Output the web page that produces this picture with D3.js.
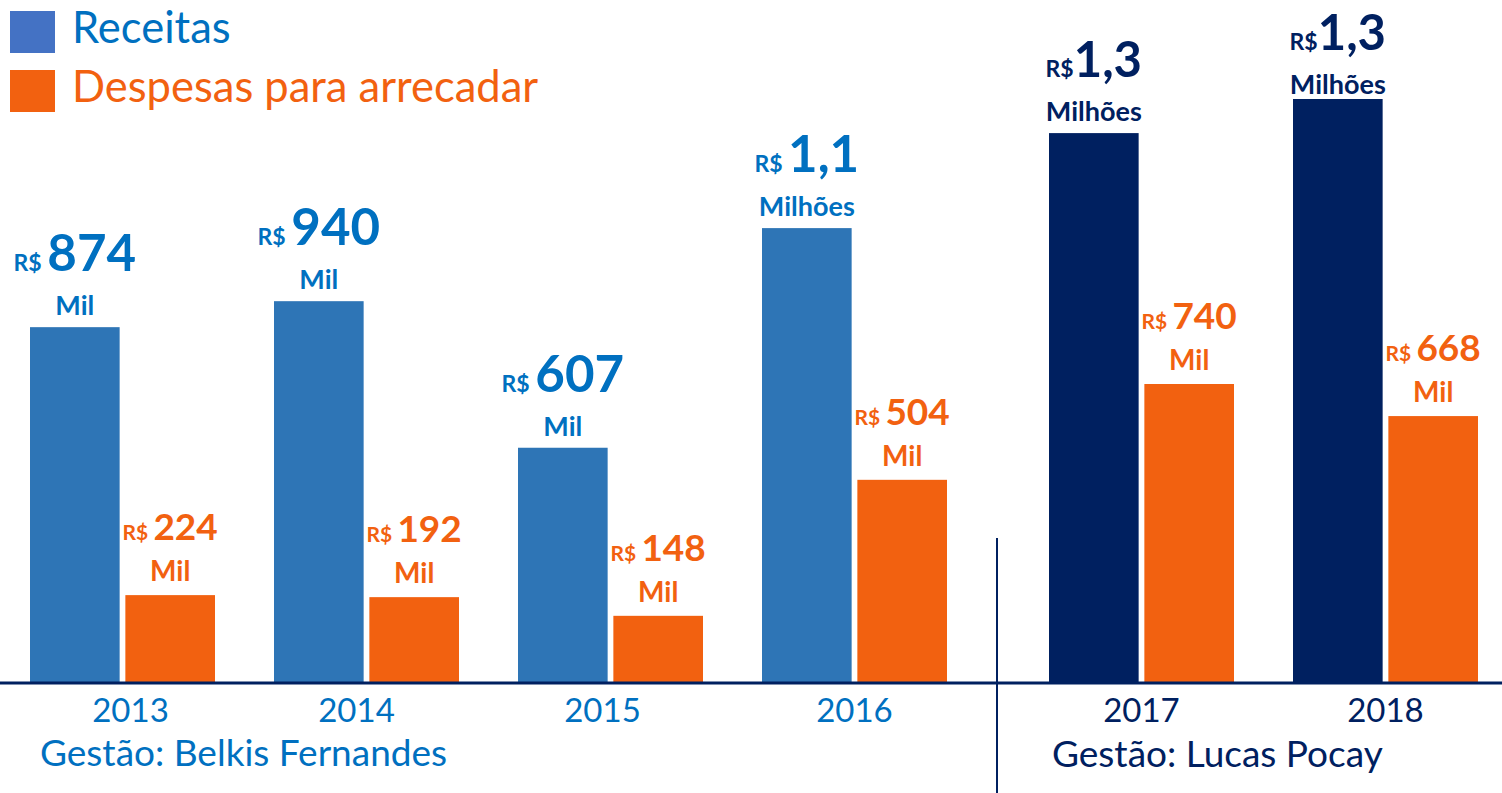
<!DOCTYPE html>
<html>
<head>
<meta charset="utf-8">
<script src="https://cdn.jsdelivr.net/npm/d3@7"></script>
<style>
  body { margin: 0; background: white; }
  svg { display: block; font-family: Lato, "Open Sans", sans-serif; }
</style>
</head>
<body>
<script>
// data
var years = ['2013', '2014', '2015', '2016', '2017', '2018'];
var receitas = [874, 938, 577, 1118, 1352, 1436];
var despesas = [214, 209, 163, 498, 734, 655];
var receitasLabel = ['874', '940', '607', '1,1', '1,3', '1,3'];
var receitasUnit = ['Mil', 'Mil', 'Mil', 'Milhões', 'Milhões', 'Milhões'];
var despesasLabel = ['224', '192', '148', '504', '740', '668'];
var gestao = ['Gestão: Belkis Fernandes', 'Gestão: Lucas Pocay'];
var gestaoIndex = [0, 0, 0, 0, 1, 1];

var width = 1502;
var height = 793;
var baseY = 682;

var blue = '#2E75B6';
var blueText = '#0070C0';
var navy = '#002060';
var orange = '#F26110';

var svg = d3.select('body')
  .append('svg')
  .attr('width', width)
  .attr('height', height);

var x0 = d3.scaleBand()
  .domain(years)
  .range([30, 1435])
  .paddingInner(0.2418)
  .paddingOuter(0);

var x1 = d3.scaleBand()
  .domain(['rec', 'desp'])
  .range([0, x0.bandwidth()])
  .paddingInner(0.06);

var yScale = d3.scaleLinear()
  .domain([0, d3.max(receitas)])
  .range([baseY, 99]);

// second administration is pushed a bit to the right
function groupX(i) {
  return x0(years[i]) + (gestaoIndex[i] === 1 ? 43 : 0);
}

var recColor = function(i) { return gestaoIndex[i] === 1 ? navy : blue; };
var recText = function(i) { return gestaoIndex[i] === 1 ? navy : blueText; };

// bars
svg.selectAll('rect.rec')
  .data(receitas)
  .enter()
  .append('rect')
  .attr('class', 'rec')
  .attr('x', function(v, i) { return groupX(i) + x1('rec'); })
  .attr('y', function(v) { return yScale(v); })
  .attr('width', x1.bandwidth())
  .attr('height', function(v) { return baseY - yScale(v); })
  .attr('fill', function(v, i) { return recColor(i); });

svg.selectAll('rect.desp')
  .data(despesas)
  .enter()
  .append('rect')
  .attr('class', 'desp')
  .attr('x', function(v, i) { return groupX(i) + x1('desp'); })
  .attr('y', function(v) { return yScale(v); })
  .attr('width', x1.bandwidth())
  .attr('height', function(v) { return baseY - yScale(v); })
  .attr('fill', orange);

// labels over receitas
receitas.forEach(function(v, i) {
  var cx = groupX(i) + x1('rec') + x1.bandwidth() / 2;
  var top = yScale(v);
  var big = gestaoIndex[i] === 1;
  var t = svg.append('text')
    .attr('x', cx)
    .attr('y', top - (i === 5 ? 49 : 56))
    .attr('text-anchor', 'middle')
    .attr('fill', recText(i))
    .attr('font-weight', 'bold');
  t.append('tspan').attr('font-size', 23).text(big ? 'R$' : 'R$ ');
  t.append('tspan').attr('font-size', big ? 49 : 51).text(receitasLabel[i]);
  svg.append('text')
    .attr('x', cx)
    .attr('y', top - (i === 5 ? 5 : 12))
    .attr('text-anchor', 'middle')
    .attr('fill', recText(i))
    .attr('font-weight', 'bold')
    .attr('font-size', 27)
    .text(receitasUnit[i]);
});

// labels over despesas
despesas.forEach(function(v, i) {
  var cx = groupX(i) + x1('desp') + x1.bandwidth() / 2;
  var top = yScale(v);
  var t = svg.append('text')
    .attr('x', cx)
    .attr('y', top - 55)
    .attr('text-anchor', 'middle')
    .attr('fill', orange)
    .attr('font-weight', 'bold');
  t.append('tspan').attr('font-size', 21).text('R$ ');
  t.append('tspan').attr('font-size', 37).text(despesasLabel[i]);
  svg.append('text')
    .attr('x', cx)
    .attr('y', top - 14)
    .attr('text-anchor', 'middle')
    .attr('fill', orange)
    .attr('font-weight', 'bold')
    .attr('font-size', 28)
    .text('Mil');
});

// baseline and divider
svg.append('line')
  .attr('x1', 0).attr('x2', width)
  .attr('y1', baseY + 1).attr('y2', baseY + 1)
  .attr('stroke', navy)
  .attr('stroke-width', 3);

svg.append('line')
  .attr('x1', 997).attr('x2', 997)
  .attr('y1', 538).attr('y2', height)
  .attr('stroke', navy)
  .attr('stroke-width', 2);

// year labels (slightly off-centre in the original)
var yearNudge = [8, -10, -8, 0, 0, 0];
svg.selectAll('text.year')
  .data(years)
  .enter()
  .append('text')
  .attr('class', 'year')
  .attr('x', function(d, i) { return groupX(i) + x0.bandwidth() / 2 + yearNudge[i]; })
  .attr('y', 722)
  .attr('text-anchor', 'middle')
  .attr('font-size', 33)
  .attr('fill', function(d, i) { return recText(i); })
  .text(function(d) { return d; });

svg.append('text')
  .attr('x', 40).attr('y', 766)
  .attr('font-size', 37)
  .attr('fill', blueText)
  .text(gestao[0]);

svg.append('text')
  .attr('x', 1052).attr('y', 767)
  .attr('font-size', 37)
  .attr('fill', navy)
  .text(gestao[1]);

// legend
var legend = [
  { label: 'Receitas', box: '#4472C4', color: blueText, y: 11 },
  { label: 'Despesas para arrecadar', box: orange, color: orange, y: 70 }
];
legend.forEach(function(d) {
  svg.append('rect')
    .attr('x', 10).attr('y', d.y)
    .attr('width', 45).attr('height', 42)
    .attr('fill', d.box);
  svg.append('text')
    .attr('x', 72).attr('y', d.y + 32)
    .attr('font-size', 43.5)
    .attr('fill', d.color)
    .text(d.label);
});
</script>
</body>
</html>
